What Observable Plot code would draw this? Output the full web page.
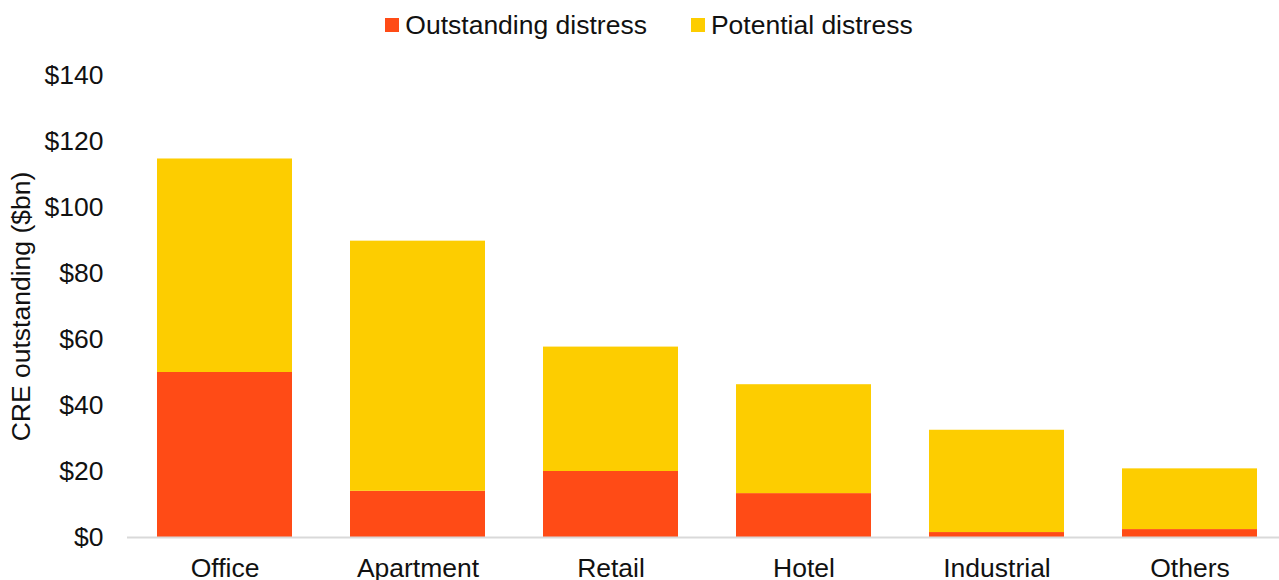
<!DOCTYPE html>
<html>
<head>
<meta charset="utf-8">
<script src="https://cdn.jsdelivr.net/npm/d3@7"></script>
<script src="https://cdn.jsdelivr.net/npm/@observablehq/plot@0.6"></script>
<style>
  html, body { margin: 0; padding: 0; background: #fff; }
  body { width: 1279px; height: 580px; overflow: hidden; font-family: "Liberation Sans", Arial, sans-serif; }
  #legend { height: 50px; display: flex; align-items: center; justify-content: center; padding-left: 19px; box-sizing: border-box; font-size: 26.5px; color: #111; }
  .item { display: flex; align-items: center; margin: 0 22px; }
  .sw { width: 14px; height: 14px; margin-right: 6px; }
</style>
</head>
<body>
<div id="legend"></div>
<div id="chart"></div>
<script>
const categories = ["Office", "Apartment", "Retail", "Hotel", "Industrial", "Others"];
const seriesNames = ["Outstanding distress", "Potential distress"];
const seriesColors = ["#FF4B16", "#FDCD00"];
const outstanding = [50, 14, 20, 13.3, 1.5, 2.4];
const potential = [64.7, 75.8, 37.7, 33, 31, 18.4];
const yTicks = [0, 20, 40, 60, 80, 100, 120, 140];

const data = [];
categories.forEach((c, i) => {
  data.push({category: c, series: seriesNames[0], value: outstanding[i]});
  data.push({category: c, series: seriesNames[1], value: potential[i]});
});

const legend = document.getElementById("legend");
seriesNames.forEach((s, i) => {
  const it = document.createElement("div");
  it.className = "item";
  const sw = document.createElement("span");
  sw.className = "sw";
  sw.style.background = seriesColors[i];
  const t = document.createElement("span");
  t.textContent = s;
  it.appendChild(sw); it.appendChild(t);
  legend.appendChild(it);
});

const plot = Plot.plot({
  width: 1279,
  height: 530,
  marginTop: 25,
  marginBottom: 43,
  marginLeft: 127,
  marginRight: 0,
  style: {fontFamily: "'Liberation Sans', Arial, sans-serif", fontSize: "26.5px", color: "#111", background: "#fff"},
  x: {type: "band", domain: categories, range: [127, 1288], paddingInner: 0.3, paddingOuter: 0.15},
  y: {domain: [0, 140]},
  color: {domain: seriesNames, range: seriesColors},
  marks: [
    Plot.barY(data, {x: "category", y: "value", fill: "series", order: seriesNames}),
    Plot.ruleY([0], {stroke: "#d9d9d9", strokeWidth: 2}),
    Plot.axisY({ticks: yTicks, tickSize: 0, tickPadding: 24, tickFormat: d => "$" + d, fontSize: 26.5,
      label: "CRE outstanding ($bn)", labelAnchor: "center", labelArrow: "none", labelOffset: 116}),
    Plot.axisX({tickSize: 0, tickPadding: 21, fontSize: 26.5, label: null})
  ]
});
document.getElementById("chart").appendChild(plot);
</script>
</body>
</html>
